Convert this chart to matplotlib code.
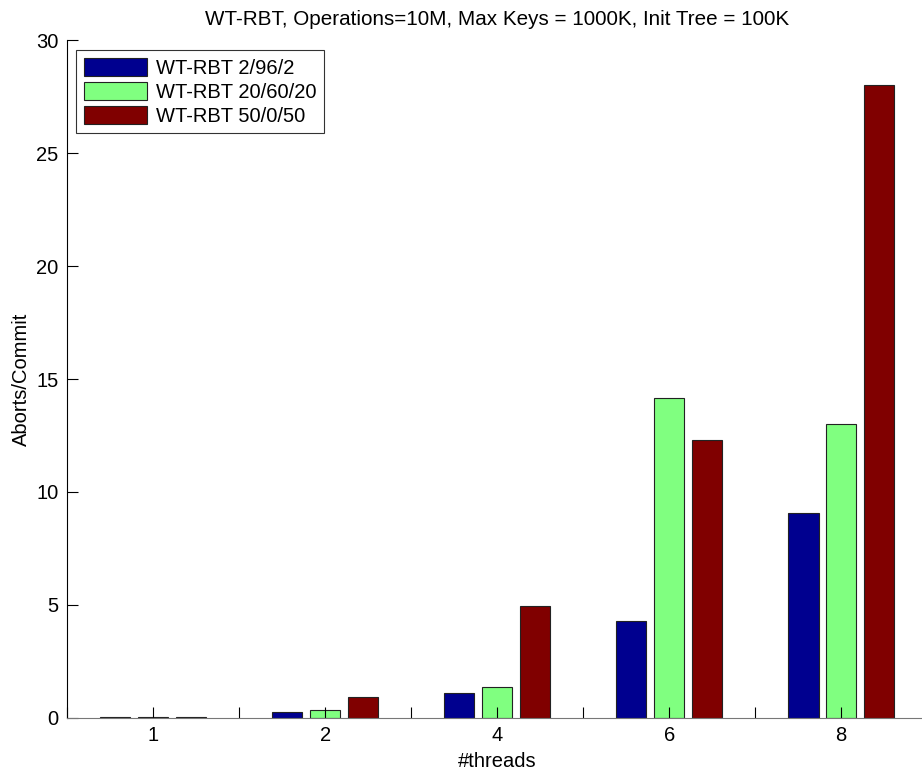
import numpy as np
import matplotlib.pyplot as plt
from matplotlib.ticker import MultipleLocator

plt.rcParams['font.family'] = ['Liberation Sans', 'DejaVu Sans']

# Datos
threads = ['1', '2', '4', '6', '8']
rbt_2_96_2 = [0.03, 0.28, 1.12, 4.28, 9.05]
rbt_20_60_20 = [0.03, 0.35, 1.36, 14.15, 13.02]
rbt_50_0_50 = [0.03, 0.94, 4.96, 12.28, 28.03]
series = [rbt_2_96_2, rbt_20_60_20, rbt_50_0_50]
labels = ['WT-RBT 2/96/2', 'WT-RBT 20/60/20', 'WT-RBT 50/0/50']
colores = ['#00008F', '#80FF80', '#800000']

fig = plt.figure(figsize=(9.22, 7.73), dpi=100)
ax = fig.add_axes([0.0727, 0.0712, 0.933, 0.877])

x = np.arange(1, len(threads) + 1)
paso = 0.22
for i, (vals, lab, c) in enumerate(zip(series, labels, colores)):
    ax.bar(x + (i - 1) * paso, vals, width=paso * 0.8, color=c,
           edgecolor='#222222', linewidth=0.8, label=lab)

ax.set_xlim(0.5, 5.5)
ax.set_ylim(0, 30)
ax.set_xticks(x)
ax.set_xticklabels(threads)
ax.xaxis.set_minor_locator(MultipleLocator(0.5))
ax.set_yticks(np.arange(0, 31, 5))
ax.tick_params(axis='both', direction='in', length=8, width=0.8,
               labelsize=14.5, pad=6)
ax.tick_params(axis='x', which='minor', direction='in', length=8, width=0.8)
ax.tick_params(axis='y', which='minor', left=False)

ax.spines['top'].set_visible(False)
ax.spines['right'].set_visible(False)
ax.spines['bottom'].set_color('#777777')

ax.set_title('WT-RBT, Operations=10M, Max Keys = 1000K, Init Tree = 100K',
             fontsize=14.9, pad=11)
ax.set_xlabel('#threads', fontsize=14.5, labelpad=5)
ax.set_ylabel('Aborts/Commit', fontsize=14.5, labelpad=4)

leg = ax.legend(loc='upper left', bbox_to_anchor=(0.011, 0.985),
                fontsize=14.5, frameon=True, fancybox=False,
                edgecolor='black', handlelength=3.1, handleheight=1.0,
                labelspacing=0.2, borderpad=0.38, handletextpad=0.45,
                borderaxespad=0)
leg.get_frame().set_linewidth(0.8)

fig.savefig('out.png', dpi=100)
